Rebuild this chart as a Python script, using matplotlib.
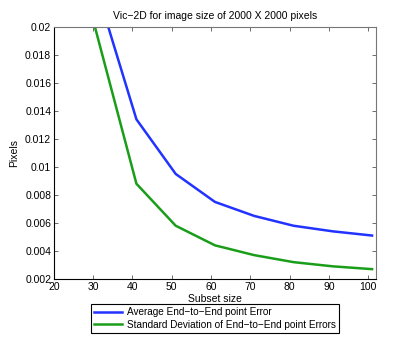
import numpy as np
import matplotlib.pyplot as plt

# Data
subset_size = [21, 31, 41, 51, 61, 71, 81, 91, 101]
avg_error = [0.032, 0.0226, 0.0134, 0.0095, 0.0075, 0.0065, 0.0058, 0.0054, 0.0051]
std_error = [0.030, 0.0194, 0.0088, 0.0058, 0.0044, 0.0037, 0.0032, 0.0029, 0.0027]

plt.rcParams['font.family'] = ['Liberation Sans', 'DejaVu Sans']
plt.rcParams['font.size'] = 7.5

fig = plt.figure(figsize=(4.15, 3.59), dpi=100)
ax = fig.add_axes([0.130, 0.223, 0.776, 0.702])

ax.plot(subset_size, avg_error, color="#2233ff", lw=1.8, label="Average End\u2212to\u2212End point Error")
ax.plot(subset_size, std_error, color="#1a9e1a", lw=1.8, label="Standard Deviation of End\u2212to\u2212End point Errors")

ax.set_xlim(20, 102)
ax.set_ylim(0.002, 0.02)
ax.set_xticks([20, 30, 40, 50, 60, 70, 80, 90, 100])
ax.set_yticks(np.arange(0.002, 0.0201, 0.002))
ax.set_yticklabels(["0.002", "0.004", "0.006", "0.008", "0.01", "0.012", "0.014", "0.016", "0.018", "0.02"])
ax.tick_params(direction="in", top=True, right=True, length=3, width=0.6, colors="#555555", labelcolor="black", pad=2)
for s in ax.spines.values():
    s.set_color("#777777")
    s.set_linewidth(0.8)
ax.spines["bottom"].set_color("black")
ax.spines["left"].set_color("black")

ax.set_title("Vic\u22122D for image size of 2000 X 2000 pixels", fontsize=7.5, pad=6)
ax.set_xlabel("Subset size", labelpad=2)
ax.set_ylabel("Pixels", labelpad=4)

leg = ax.legend(loc="upper center", bbox_to_anchor=(0.5, -0.10), fancybox=False,
                edgecolor="black", framealpha=1, borderpad=0.3, handlelength=2.8,
                handletextpad=0.5, labelspacing=0.25, borderaxespad=0, fontsize=7.2)
leg.get_frame().set_linewidth(0.8)

fig.savefig("out.png", dpi=100)
